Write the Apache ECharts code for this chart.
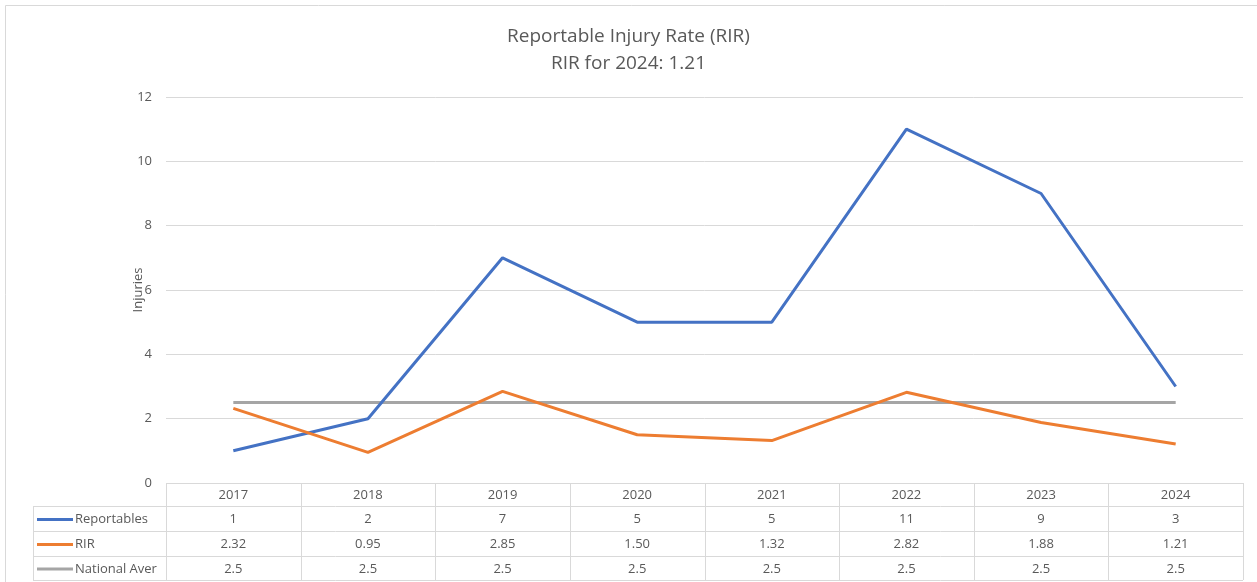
<!DOCTYPE html>
<html>
<head>
<meta charset="utf-8">
<script src="https://cdn.jsdelivr.net/npm/echarts@6/dist/echarts.min.js"></script>
<style>
html,body{margin:0;padding:0;background:#fff;}
#chart{width:1257px;height:582px;}
</style>
</head>
<body>
<div id="chart"></div>
<script>
const categories = ['2017','2018','2019','2020','2021','2022','2023','2024'];
const reportables = [1, 2, 7, 5, 5, 11, 9, 3];
const rir = [2.32, 0.95, 2.85, 1.50, 1.32, 2.82, 1.88, 1.21];
const nationalAvg = [2.5, 2.5, 2.5, 2.5, 2.5, 2.5, 2.5, 2.5];
const rirLabels = ['2.32','0.95','2.85','1.50','1.32','2.82','1.88','1.21'];
const seriesNames = ['Reportables', 'RIR', 'National Aver'];
const colors = ['#4472C4', '#ED7D31', '#A5A5A5'];
const yTicks = { min: 0, max: 12, interval: 2 };

const FONT = '"Open Sans", "Noto Sans", sans-serif';
const TXT = '#595959';
const BORDER = '#d9d9d9';

const chart = echarts.init(document.getElementById('chart'), null, { renderer: 'canvas' });

const gridLeft = 166, gridRight = 14, gridTop = 97, gridBottom = 99;

chart.setOption({
  animation: false,
  backgroundColor: '#fff',
  title: {
    text: 'Reportable Injury Rate (RIR)\nRIR for 2024: 1.21',
    left: 'center',
    top: 18,
    textStyle: { fontFamily: FONT, fontSize: 19, fontWeight: 'normal', color: TXT, lineHeight: 27 }
  },
  grid: { left: gridLeft, right: gridRight, top: gridTop, bottom: gridBottom },
  xAxis: {
    type: 'category',
    data: categories,
    boundaryGap: true,
    axisLine: { show: false },
    axisTick: { show: false },
    axisLabel: { show: false }
  },
  yAxis: {
    type: 'value',
    min: yTicks.min, max: yTicks.max, interval: yTicks.interval,
    name: 'Injuries',
    nameLocation: 'middle',
    nameGap: 21,
    nameMoveOverlap: false,
    nameTextStyle: { fontFamily: FONT, fontSize: 13, color: TXT },
    axisLine: { show: false },
    axisTick: { show: false },
    axisLabel: { fontFamily: FONT, fontSize: 13, color: TXT, margin: 14 },
    splitLine: { lineStyle: { color: BORDER, width: 1 } }
  },
  series: [
    { name: seriesNames[0], type: 'line', data: reportables, showSymbol: false, lineStyle: { width: 3, color: colors[0] }, itemStyle: { color: colors[0] }, z: 3 },
    { name: seriesNames[1], type: 'line', data: rir, showSymbol: false, lineStyle: { width: 3, color: colors[1] }, itemStyle: { color: colors[1] }, z: 3 },
    { name: seriesNames[2], type: 'line', data: nationalAvg, showSymbol: false, lineStyle: { width: 3, color: colors[2] }, itemStyle: { color: colors[2] }, z: 2 }
  ]
});

// Build data table from the arrays, positioned via the axis scale
const rowsData = [reportables.map(String), rirLabels, nationalAvg.map(String)];
const y0 = chart.convertToPixel({ yAxisIndex: 0 }, 0);
const c0 = chart.convertToPixel({ xAxisIndex: 0 }, 0);
const c1 = chart.convertToPixel({ xAxisIndex: 0 }, 1);
const colW = c1 - c0;
const tableLeft = c0 - colW / 2;
const tableRight = tableLeft + colW * categories.length;
const rowYs = [y0, y0 + 23, y0 + 48, y0 + 73, y0 + 97];
const legendLeft = 33;

const g = [];
// outer frame
g.push({ type: 'rect', shape: { x: 5.5, y: 5.5, width: 1270, height: 600 }, style: { fill: null, stroke: BORDER, lineWidth: 1 }, silent: true });

// horizontal lines
g.push({ type: 'line', shape: { x1: tableLeft, y1: rowYs[0] + 0.5, x2: tableRight, y2: rowYs[0] + 0.5 }, style: { stroke: BORDER, lineWidth: 1 } });
for (let i = 1; i < rowYs.length; i++) {
  g.push({ type: 'line', shape: { x1: legendLeft, y1: Math.round(rowYs[i]) + 0.5, x2: tableRight, y2: Math.round(rowYs[i]) + 0.5 }, style: { stroke: BORDER, lineWidth: 1 } });
}
// vertical lines
g.push({ type: 'line', shape: { x1: legendLeft + 0.5, y1: rowYs[1], x2: legendLeft + 0.5, y2: rowYs[4] }, style: { stroke: BORDER, lineWidth: 1 } });
for (let k = 0; k <= categories.length; k++) {
  const x = Math.round(tableLeft + k * colW) + 0.5;
  g.push({ type: 'line', shape: { x1: x, y1: rowYs[0], x2: x, y2: rowYs[4] }, style: { stroke: BORDER, lineWidth: 1 } });
}
// header
categories.forEach((c, i) => {
  const cx = chart.convertToPixel({ xAxisIndex: 0 }, i);
  g.push({ type: 'text', x: cx, y: (rowYs[0] + rowYs[1]) / 2 + 1, style: { text: c, fill: TXT, font: '13px ' + FONT, textAlign: 'center', textVerticalAlign: 'middle' } });
});
// rows
rowsData.forEach((row, r) => {
  const cy = (rowYs[r + 1] + rowYs[r + 2]) / 2 + 1;
  g.push({ type: 'line', shape: { x1: 37, y1: cy, x2: 73, y2: cy }, style: { stroke: colors[r], lineWidth: 3 } });
  g.push({ type: 'text', x: 75, y: cy, style: { text: seriesNames[r], fill: TXT, font: '13px ' + FONT, textAlign: 'left', textVerticalAlign: 'middle' } });
  row.forEach((v, i) => {
    const cx = chart.convertToPixel({ xAxisIndex: 0 }, i);
    g.push({ type: 'text', x: cx, y: cy, style: { text: v, fill: TXT, font: '13px ' + FONT, textAlign: 'center', textVerticalAlign: 'middle' } });
  });
});

chart.setOption({ graphic: { elements: g } });
</script>
</body>
</html>
